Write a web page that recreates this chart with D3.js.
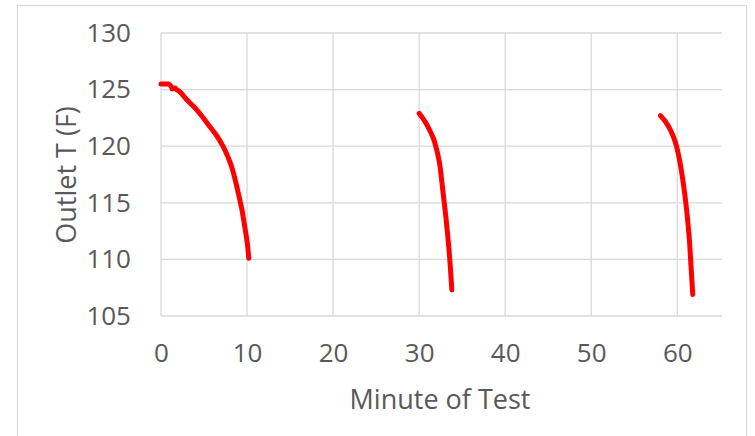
<!DOCTYPE html>
<html>
<head>
<meta charset="utf-8">
<script src="https://cdn.jsdelivr.net/npm/d3@7"></script>
<style>
  html, body { margin: 0; padding: 0; background: #fff; }
  svg { display: block; font-family: "Open Sans", "Noto Sans", sans-serif; }
</style>
</head>
<body>
<svg id="chart"></svg>
<script>
// Outlet temperature during three draws
const xTicks = [0, 10, 20, 30, 40, 50, 60];
const yTicks = [105, 110, 115, 120, 125, 130];

// [minute, outlet T (F)]
const draw1 = [
  [0.0, 125.5], [0.9, 125.5], [1.3, 125.05], [1.65, 125.15], [2.2, 124.8],
  [3.0, 124.1], [3.8, 123.5], [4.6, 122.8], [5.5, 121.9], [6.5, 120.9],
  [7.2, 120.0], [7.7, 119.2], [8.2, 118.2], [8.6, 117.1], [9.0, 115.8],
  [9.4, 114.4], [9.75, 112.8], [10.0, 111.6], [10.2, 110.1]
];
const draw2 = [
  [30.0, 122.9], [30.4, 122.5], [30.9, 121.9], [31.3, 121.3], [31.7, 120.6],
  [32.0, 119.8], [32.3, 118.8], [32.7, 116.45], [33.1, 113.8], [33.5, 110.6],
  [33.8, 107.3]
];
const draw3 = [
  [58.05, 122.7], [58.6, 122.2], [59.2, 121.45], [59.8, 120.3], [60.1, 119.4],
  [60.4, 118.2], [60.9, 115.6], [61.35, 112.3], [61.6, 109.4], [61.8, 106.9]
];
const draws = [draw1, draw2, draw3];

const W = 755, H = 436;
const margin = { top: 33, right: 33, bottom: 120, left: 161 };
const w = W - margin.left - margin.right;
const h = H - margin.top - margin.bottom;

const svg = d3.select("#chart").attr("width", W).attr("height", H);

// chart frame
svg.append("rect")
  .attr("x", 17.5).attr("y", 5.5).attr("width", 729).attr("height", 440)
  .attr("fill", "#fff").attr("stroke", "#d9d9d9").attr("stroke-width", 1.2);

const g = svg.append("g").attr("transform", `translate(${margin.left},${margin.top})`);

const x = d3.scaleLinear().domain([0, 65.2]).range([0, w]);
const y = d3.scaleLinear().domain([105, 130]).range([h, 0]);

// Grid
g.append("g").selectAll("line").data(yTicks).join("line")
  .attr("x1", 0).attr("x2", w)
  .attr("y1", d => y(d)).attr("y2", d => y(d))
  .attr("stroke", "#d9d9d9").attr("stroke-width", 1.3);
g.append("g").selectAll("line").data(xTicks).join("line")
  .attr("x1", d => x(d)).attr("x2", d => x(d))
  .attr("y1", 0).attr("y2", h)
  .attr("stroke", "#d9d9d9").attr("stroke-width", 1.3);

// Axes (labels only, Excel style)
const yAxis = g.append("g")
  .call(d3.axisLeft(y).tickValues(yTicks).tickSize(0).tickPadding(30));
const xAxis = g.append("g").attr("transform", `translate(0,${h})`)
  .call(d3.axisBottom(x).tickValues(xTicks).tickSize(0).tickPadding(28));
[yAxis, xAxis].forEach(a => {
  a.select(".domain").remove();
  a.selectAll("text").attr("fill", "#595959")
    .style("font-size", "26px").style("font-family", "\"Open Sans\", sans-serif");
});

// Lines
const line = d3.line().x(d => x(d[0])).y(d => y(d[1])).curve(d3.curveMonotoneY);
g.selectAll("path.draw").data(draws).join("path")
  .attr("class", "draw")
  .attr("d", line)
  .attr("fill", "none")
  .attr("stroke", "#ff0000")
  .attr("stroke-width", 5)
  .attr("stroke-linecap", "round")
  .attr("stroke-linejoin", "round");

// Axis titles
svg.append("text")
  .attr("x", 440).attr("y", 409)
  .attr("text-anchor", "middle")
  .attr("fill", "#595959").style("font-size", "27px")
  .text("Minute of Test");
svg.append("text")
  .attr("transform", "translate(76,175) rotate(-90)")
  .attr("text-anchor", "middle")
  .attr("fill", "#595959").style("font-size", "27px")
  .text("Outlet T (F)");
</script>
</body>
</html>
